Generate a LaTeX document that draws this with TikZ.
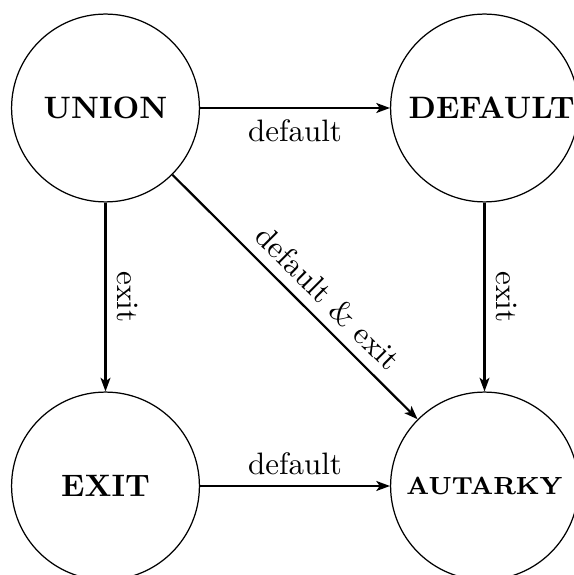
\documentclass[tikz,border=0pt]{standalone}
\usetikzlibrary{arrows.meta}
\begin{document}
\begin{tikzpicture}[x=0.3226pt,y=-0.3226pt,
  state/.style={draw,circle,line width=0.4pt,minimum size=60.6pt,inner sep=0pt,font=\bfseries},
  trans/.style={line width=0.7pt,-{Stealth[length=4.4pt,width=3.2pt,inset=1.1pt]}},
  lbl/.style={font=\normalsize}]
\useasboundingbox (0,0) rectangle (573,575);
\node[state] (union) at (105.5,108) {UNION};
\node[state] (default) at (484.5,108) {};
\node[font=\bfseries,inner sep=0pt] (defaulttext) at ([xshift=2.3pt]default.center) {DEFAULT};
\node[state] (exit) at (105.5,486) {EXIT};
\node[state,font=\footnotesize\bfseries] (autarky) at (484.5,486) {AUTARKY};
\draw[trans] (union) -- node[below,lbl] {default} (default);
\draw[trans] (exit) -- node[above,lbl] {default} (autarky);
\draw[trans] (union) -- node[above,sloped,lbl] {exit} (exit);
\draw[trans] (default) -- node[above,sloped,lbl] {exit} (autarky);
\draw[trans] (union) -- node[pos=0.57,above,sloped,lbl] {default \& exit} (autarky);
\end{tikzpicture}
\end{document}
